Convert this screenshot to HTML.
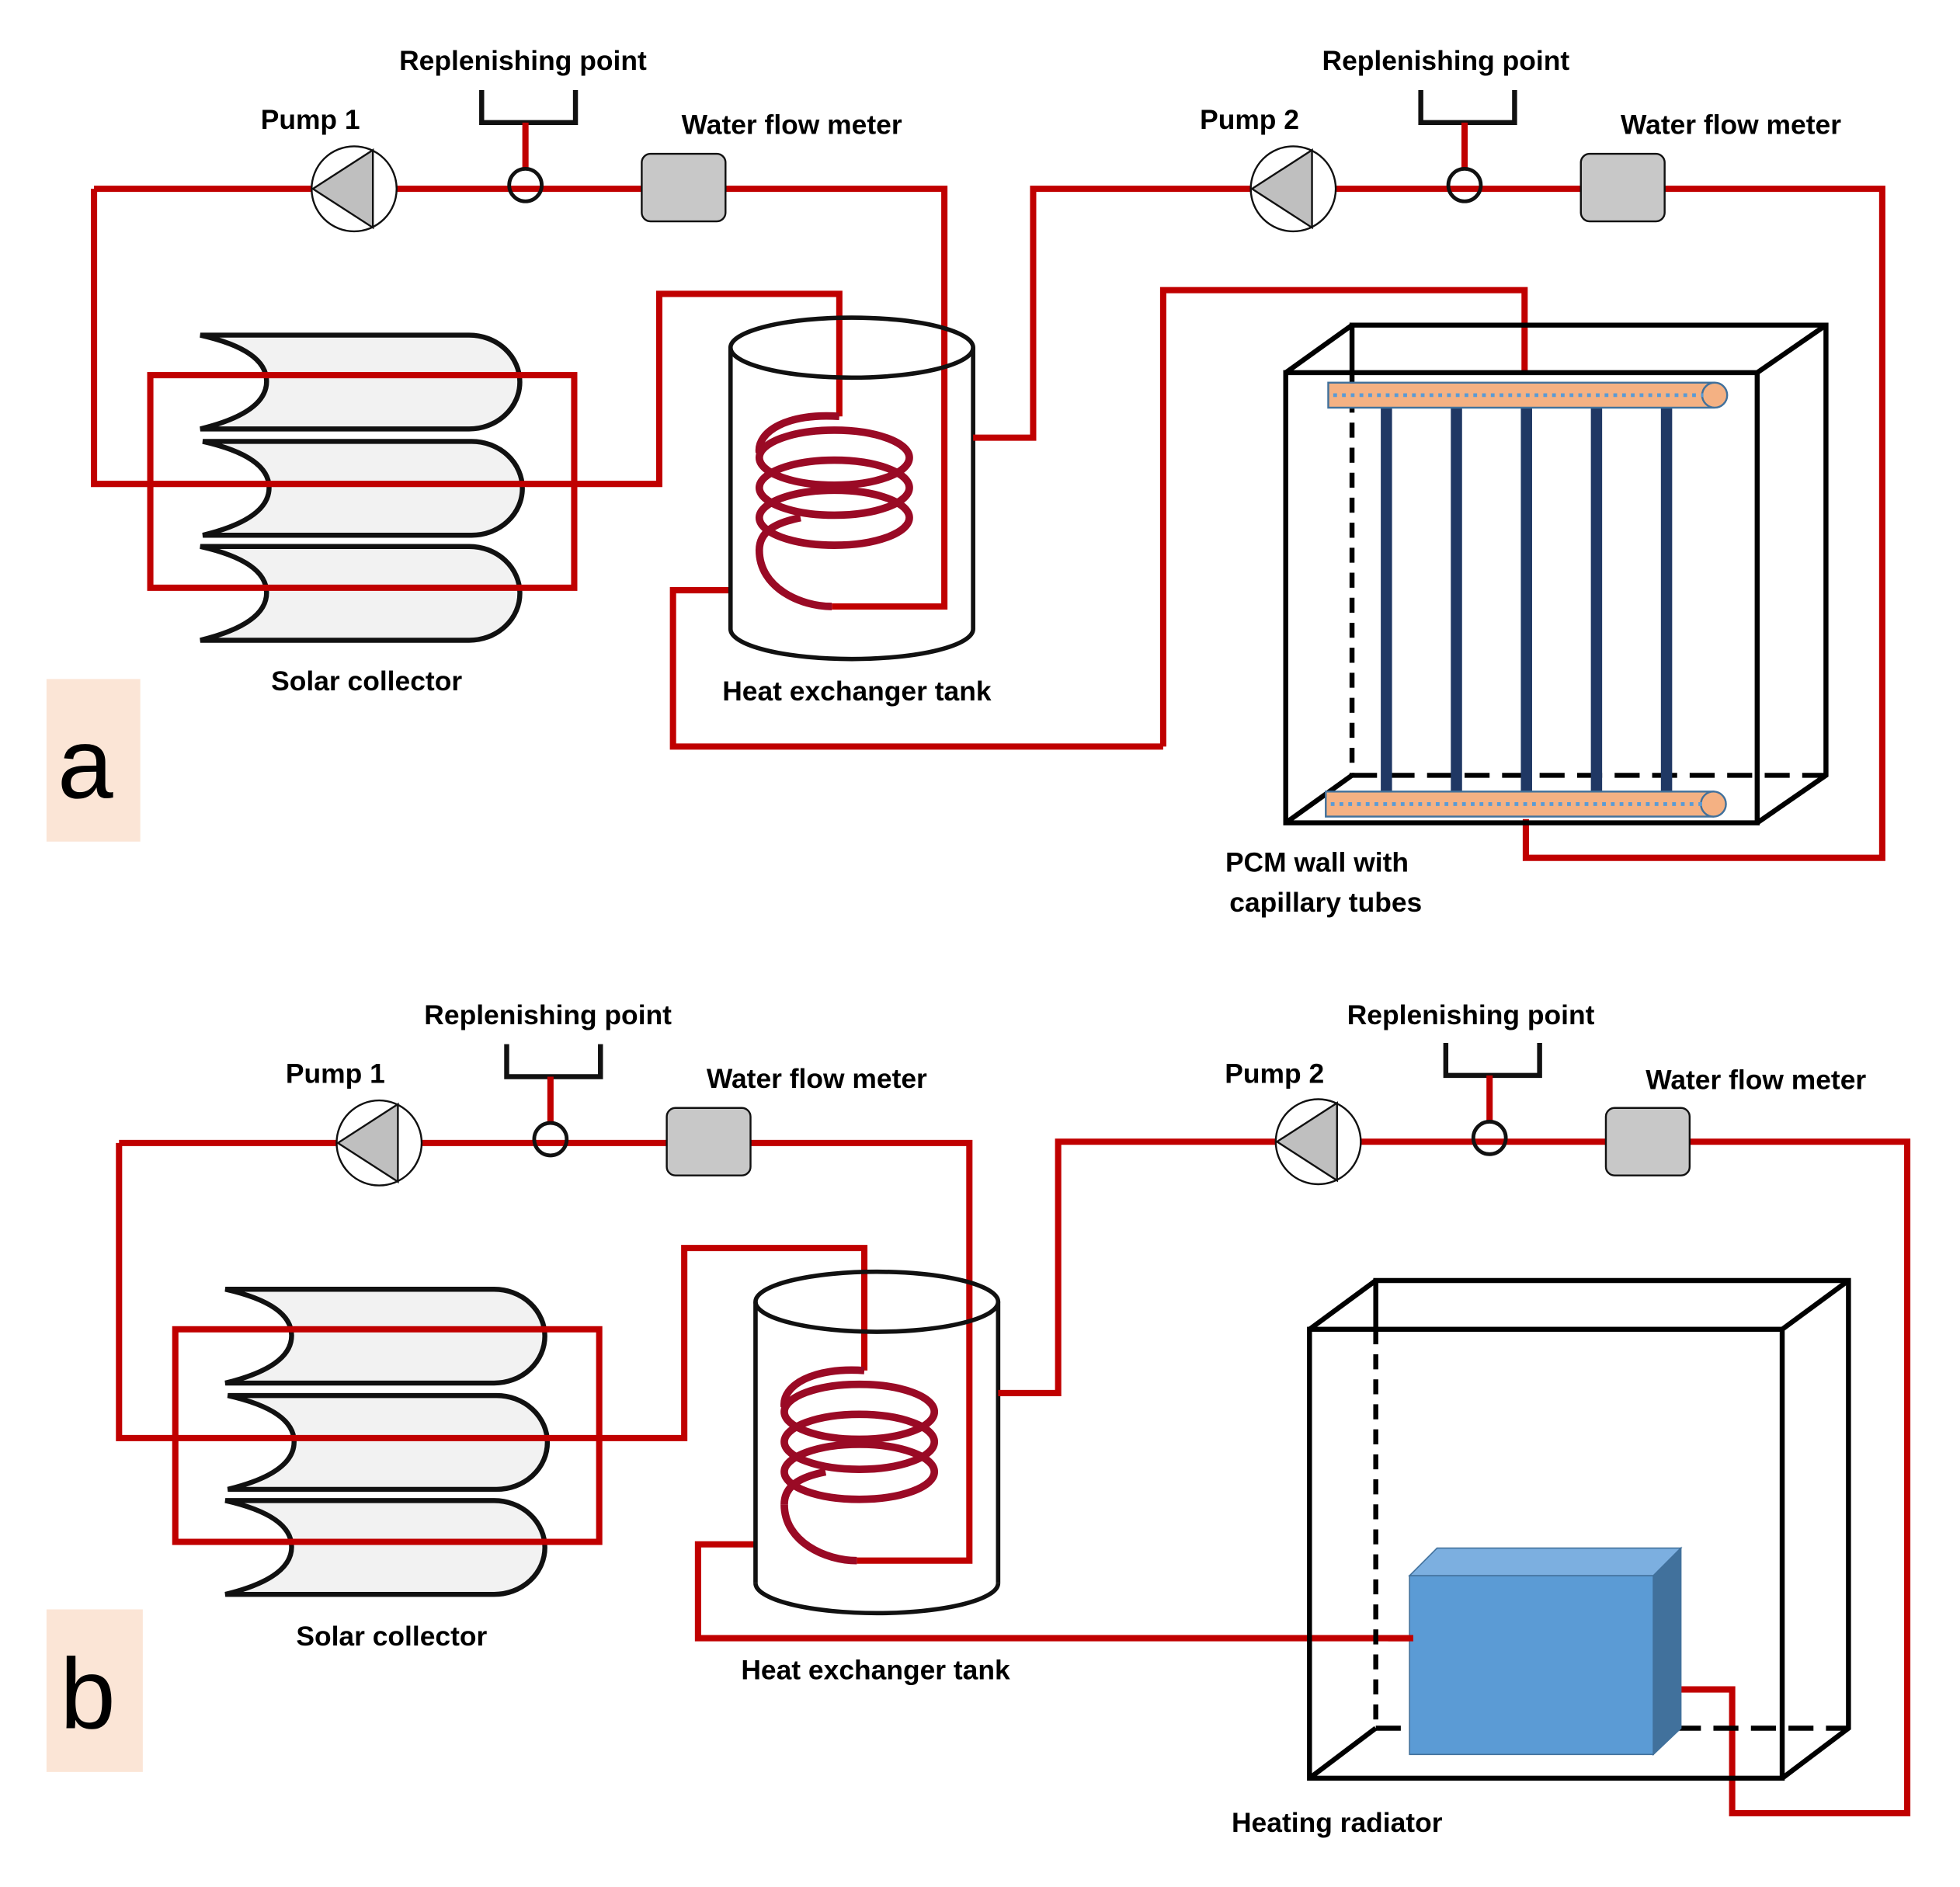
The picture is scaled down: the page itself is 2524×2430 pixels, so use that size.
<!DOCTYPE html>
<html><head><meta charset="utf-8"><style>
html,body{margin:0;padding:0;background:#fff}
svg{display:block}
text{font-family:"Liberation Sans",sans-serif;font-weight:bold;font-size:22px;fill:#000;text-anchor:middle}
</style></head><body>
<svg width="2524" height="2430" viewBox="0 0 1567 1509" xmlns="http://www.w3.org/2000/svg">
<g id="leftA">
<g fill="#f2f2f2" stroke="#111" stroke-width="4">
<path d="M160,268 L375,268 A40,37 0 0 1 375,343 L160,343 Q213,330 213,305 Q213,280 160,268 Z"/>
<path d="M162,353 L377,353 A40,37 0 0 1 377,428 L162,428 Q215,415 215,390 Q215,365 162,353 Z"/>
<path d="M160,437 L375,437 A40,37 0 0 1 375,512 L160,512 Q213,499 213,474 Q213,449 160,437 Z"/>
</g>
<g fill="none" stroke="#c00000" stroke-width="5">
<rect x="120" y="300" width="339" height="170"/>
<polyline points="75,151 755,151 755,485 665,485"/>
<polyline points="75,151 75,387 527,387 527,235 671,235 671,333"/>
<polyline points="584,472 538,472 538,597 930,597"/>
</g>
<circle cx="283" cy="151" r="34" fill="#fff" stroke="#111" stroke-width="1.5"/>
<polygon points="250,151 298,120 298,182" fill="#bfbfbf" stroke="#111" stroke-width="1.5"/>
<polyline points="385,72 385,98 460,98 460,72" fill="none" stroke="#111" stroke-width="4"/>
<line x1="420" y1="98" x2="420" y2="136" stroke="#c00000" stroke-width="5"/>
<circle cx="420" cy="148" r="13" fill="none" stroke="#111" stroke-width="3"/>
<rect x="513" y="123" width="67" height="54" rx="7" fill="#c8c8c8" stroke="#111" stroke-width="1.5"/>
<g fill="none" stroke="#111" stroke-width="3.5">
<ellipse cx="681" cy="278" rx="97" ry="24"/>
<line x1="584" y1="278" x2="584" y2="503"/>
<line x1="778" y1="278" x2="778" y2="503"/>
<path d="M584,503 A97,24 0 0 0 778,503"/>
</g>
<g fill="none" stroke="#9a0a25" stroke-width="6">
<path d="M671,333 C630,330 605,345 607,362"/>
<ellipse cx="667" cy="366" rx="60" ry="22"/>
<ellipse cx="667" cy="390" rx="60" ry="22"/>
<ellipse cx="667" cy="414" rx="60" ry="22"/>
<path d="M607,440 C607,470 640,485 665,485"/>
<path d="M607,440 C607,425 620,418 640,414"/>
</g>
<text x="418" y="56">Replenishing point</text>
<text x="248" y="103">Pump 1</text>
<text x="633" y="107">Water flow meter</text>
<text x="293" y="552">Solar collector</text>
<text x="685" y="560">Heat exchanger tank</text>
</g>
<g fill="none" stroke="#c00000" stroke-width="5">
<polyline points="778,350 826,350 826,151 1505,151 1505,686 1220,686 1220,655"/>
<polyline points="930,597 930,232 1219,232 1219,298"/>
</g>
<circle cx="1034" cy="151" r="34" fill="#fff" stroke="#111" stroke-width="1.5"/>
<polygon points="1001,151 1049,120 1049,182" fill="#bfbfbf" stroke="#111" stroke-width="1.5"/>
<polyline points="1136,72 1136,98 1211,98 1211,72" fill="none" stroke="#111" stroke-width="4"/>
<line x1="1171" y1="98" x2="1171" y2="136" stroke="#c00000" stroke-width="5"/>
<circle cx="1171" cy="148" r="13" fill="none" stroke="#111" stroke-width="3"/>
<rect x="1264" y="123" width="67" height="54" rx="7" fill="#c8c8c8" stroke="#111" stroke-width="1.5"/>
<g fill="none" stroke="#000" stroke-width="4">
<rect x="1028" y="298" width="377" height="360"/>
<polyline points="1081,298 1081,260 1460,260 1460,620 1405,658"/>
<line x1="1028" y1="298" x2="1081" y2="260"/>
<line x1="1405" y1="298" x2="1460" y2="260"/>
<line x1="1028" y1="658" x2="1081" y2="620"/>
<line x1="1081" y1="298" x2="1081" y2="620" stroke-dasharray="12,8"/>
<line x1="1081" y1="620" x2="1460" y2="620" stroke-dasharray="20,10"/>
</g>
<g fill="#203864">
<rect x="1104" y="326" width="9" height="307"/><rect x="1160" y="326" width="9" height="307"/>
<rect x="1216" y="326" width="9" height="307"/><rect x="1272" y="326" width="9" height="307"/>
<rect x="1328" y="326" width="9" height="307"/>
</g>
<g fill="#f4b183" stroke="#41719c" stroke-width="1.5">
<rect x="1062" y="306" width="308" height="20"/><ellipse cx="1371" cy="316" rx="10" ry="10"/>
<rect x="1060" y="633" width="310" height="20"/><ellipse cx="1370" cy="643" rx="10" ry="10"/>
</g>
<g stroke="#5b9bd5" stroke-width="3" stroke-dasharray="3,4">
<line x1="1066" y1="316" x2="1362" y2="316"/><line x1="1064" y1="643" x2="1362" y2="643"/>
</g>
<text x="1156" y="56">Replenishing point</text>
<text x="999" y="103">Pump 2</text>
<text x="1384" y="107">Water flow meter</text>
<text x="1053" y="697">PCM wall with</text>
<text x="1060" y="729">capillary tubes</text>
<rect x="37" y="543" width="75" height="130" fill="#fbe5d6"/>
<text x="68" y="638" style="font-size:80px;font-weight:normal">a</text>

<g transform="translate(20,763)">
<g fill="#f2f2f2" stroke="#111" stroke-width="4">
<path d="M160,268 L375,268 A40,37 0 0 1 375,343 L160,343 Q213,330 213,305 Q213,280 160,268 Z"/>
<path d="M162,353 L377,353 A40,37 0 0 1 377,428 L162,428 Q215,415 215,390 Q215,365 162,353 Z"/>
<path d="M160,437 L375,437 A40,37 0 0 1 375,512 L160,512 Q213,499 213,474 Q213,449 160,437 Z"/>
</g>
<g fill="none" stroke="#c00000" stroke-width="5">
<rect x="120" y="300" width="339" height="170"/>
<polyline points="75,151 755,151 755,485 665,485"/>
<polyline points="75,151 75,387 527,387 527,235 671,235 671,333"/>
<polyline points="584,472 538,472 538,547 1110,547"/>
</g>
<circle cx="283" cy="151" r="34" fill="#fff" stroke="#111" stroke-width="1.5"/>
<polygon points="250,151 298,120 298,182" fill="#bfbfbf" stroke="#111" stroke-width="1.5"/>
<polyline points="385,72 385,98 460,98 460,72" fill="none" stroke="#111" stroke-width="4"/>
<line x1="420" y1="98" x2="420" y2="136" stroke="#c00000" stroke-width="5"/>
<circle cx="420" cy="148" r="13" fill="none" stroke="#111" stroke-width="3"/>
<rect x="513" y="123" width="67" height="54" rx="7" fill="#c8c8c8" stroke="#111" stroke-width="1.5"/>
<g fill="none" stroke="#111" stroke-width="3.5">
<ellipse cx="681" cy="278" rx="97" ry="24"/>
<line x1="584" y1="278" x2="584" y2="503"/>
<line x1="778" y1="278" x2="778" y2="503"/>
<path d="M584,503 A97,24 0 0 0 778,503"/>
</g>
<g fill="none" stroke="#9a0a25" stroke-width="6">
<path d="M671,333 C630,330 605,345 607,362"/>
<ellipse cx="667" cy="366" rx="60" ry="22"/>
<ellipse cx="667" cy="390" rx="60" ry="22"/>
<ellipse cx="667" cy="414" rx="60" ry="22"/>
<path d="M607,440 C607,470 640,485 665,485"/>
<path d="M607,440 C607,425 620,418 640,414"/>
</g>
<text x="418" y="56">Replenishing point</text>
<text x="248" y="103">Pump 1</text>
<text x="633" y="107">Water flow meter</text>
<text x="293" y="553">Solar collector</text>
<text x="680" y="580">Heat exchanger tank</text>
</g>
<g fill="none" stroke="#c00000" stroke-width="5">
<polyline points="798,1114 846,1114 846,913 1525,913 1525,1450 1385,1450 1385,1351 1330,1351"/>
</g>
<circle cx="1054" cy="913" r="34" fill="#fff" stroke="#111" stroke-width="1.5"/>
<polygon points="1021,913 1069,882 1069,944" fill="#bfbfbf" stroke="#111" stroke-width="1.5"/>
<polyline points="1156,834 1156,860 1231,860 1231,834" fill="none" stroke="#111" stroke-width="4"/>
<line x1="1191" y1="860" x2="1191" y2="898" stroke="#c00000" stroke-width="5"/>
<circle cx="1191" cy="910" r="13" fill="none" stroke="#111" stroke-width="3"/>
<rect x="1284" y="886" width="67" height="54" rx="7" fill="#c8c8c8" stroke="#111" stroke-width="1.5"/>
<g fill="none" stroke="#000" stroke-width="4">
<rect x="1047" y="1063" width="378" height="359"/>
<polyline points="1100,1063 1100,1024 1478,1024 1478,1382 1425,1422"/>
<line x1="1047" y1="1063" x2="1100" y2="1024"/>
<line x1="1425" y1="1063" x2="1478" y2="1024"/>
<line x1="1047" y1="1422" x2="1100" y2="1382"/>
<line x1="1100" y1="1063" x2="1100" y2="1382" stroke-dasharray="12,8"/>
<line x1="1100" y1="1382" x2="1478" y2="1382" stroke-dasharray="20,10"/>
</g>
<rect x="1127" y="1260" width="195" height="143" fill="#5b9bd5" stroke="#41719c" stroke-width="1"/>
<polygon points="1127,1260 1149,1238 1344,1238 1322,1260" fill="#7cafe0" stroke="#41719c" stroke-width="1"/>
<polygon points="1322,1260 1344,1238 1344,1382 1322,1403" fill="#41719c" stroke="#41719c" stroke-width="1"/>
<line x1="1110" y1="1310" x2="1130" y2="1310" stroke="#c00000" stroke-width="5"/>
<text x="1176" y="819">Replenishing point</text>
<text x="1019" y="866">Pump 2</text>
<text x="1404" y="871">Water flow meter</text>
<text x="1069" y="1465">Heating radiator</text>
<rect x="37" y="1287" width="77" height="130" fill="#fbe5d6"/>
<text x="70" y="1382" style="font-size:80px;font-weight:normal">b</text>
</svg>
</body></html>
